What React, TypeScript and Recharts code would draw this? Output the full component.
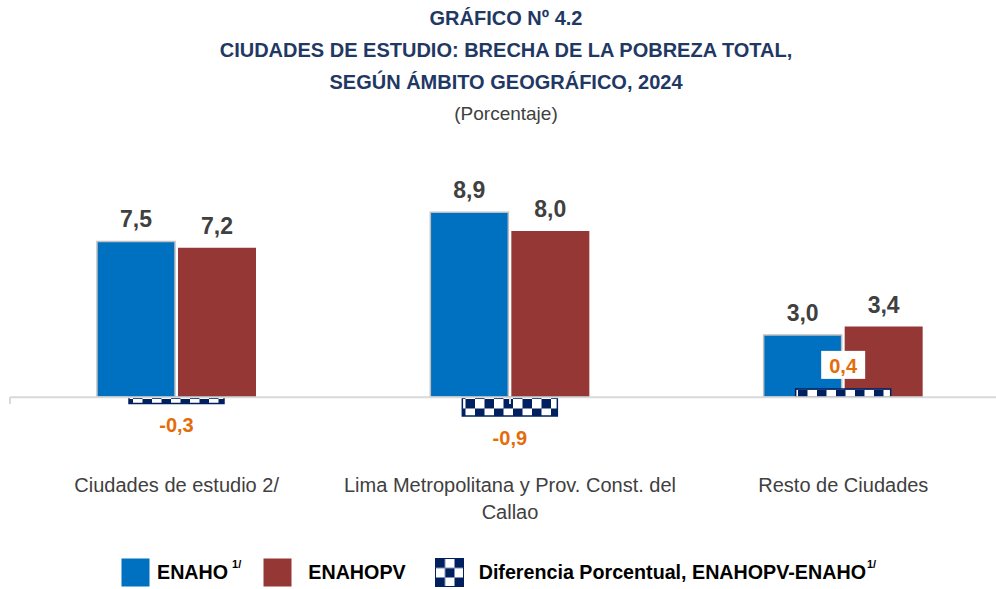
import { BarChart, Bar, XAxis, YAxis, LabelList, ReferenceLine } from 'recharts'

const categories = [
  'Ciudades de estudio 2/',
  'Lima Metropolitana y Prov. Const. del Callao',
  'Resto de Ciudades',
]
const enaho = [7.5, 8.9, 3.0]
const enahopv = [7.2, 8.0, 3.4]
const diferencia = [-0.3, -0.9, 0.4]
const boundaries = [0, 1, 2, 3]

const titleLines = [
  'GRÁFICO Nº 4.2',
  'CIUDADES DE ESTUDIO: BRECHA DE LA POBREZA TOTAL,',
  'SEGÚN ÁMBITO GEOGRÁFICO, 2024',
]
const subtitle = '(Porcentaje)'

const data = categories.map((name, i) => ({
  name,
  enaho: enaho[i],
  enahopv: enahopv[i],
  diff: diferencia[i],
}))

const FONT = '"Liberation Sans Narrow", "Liberation Sans", Arial, sans-serif'
const BLUE = '#0070C0'
const RED = '#953735'
const NAVY = '#002060'
const ORANGE = '#E46C0A'
const GREY = '#404040'

const fmt = (v: number) => v.toFixed(1).replace('.', ',')

function wrap(text: string, maxChars: number) {
  const lines: string[] = []
  let cur = ''
  for (const w of text.split(' ')) {
    const next = cur ? cur + ' ' + w : w
    if (next.length > maxChars && cur) {
      lines.push(cur)
      cur = w
    } else cur = next
  }
  if (cur) lines.push(cur)
  return lines
}

function CategoryTick(props: any) {
  const { x, y, payload } = props
  const lines = wrap(String(payload.value), 38)
  return (
    <text x={x} y={y + 24} textAnchor="middle" fill={GREY} fontSize={20} fontFamily={FONT}>
      {lines.map((l, i) => (
        <tspan key={i} x={x} dy={i === 0 ? 0 : 27}>
          {l}
        </tspan>
      ))}
    </text>
  )
}

function DiffLabel(props: any) {
  const { x, y, width, height, value } = props
  const top = Math.min(y, y + height)
  const bottom = Math.max(y, y + height)
  const cx = x + width / 2
  if (value < 0) {
    return (
      <text x={cx} y={bottom + 29} textAnchor="middle" fill={ORANGE} fontSize={20} fontWeight="bold" fontFamily={FONT}>
        {fmt(value)}
      </text>
    )
  }
  return (
    <g>
      <rect x={cx - 22} y={top - 38} width={44} height={28} fill="#fff" />
      <text x={cx} y={top - 16} textAnchor="middle" fill={ORANGE} fontSize={20} fontWeight="bold" fontFamily={FONT}>
        {fmt(value)}
      </text>
    </g>
  )
}

function Swatch({ fill, stroke }: { fill: string; stroke?: string }) {
  return (
    <svg width={29} height={29} style={{ display: 'block' }}>
      <rect x={0.5} y={0.5} width={28} height={28} fill={fill} stroke={stroke ?? 'none'} />
    </svg>
  )
}

export default function App() {
  return (
    <div style={{ position: 'absolute', left: 0, top: 0, width: 996, height: 589, overflow: 'hidden', background: '#fff' }}>
      <svg width={0} height={0} style={{ position: 'absolute' }}>
        <defs>
          <pattern id="checker" patternUnits="userSpaceOnUse" width={19} height={19}>
            <rect width={19} height={19} fill={NAVY} />
            <rect x={0} y={0} width={9.5} height={9.5} fill="#fff" />
            <rect x={9.5} y={9.5} width={9.5} height={9.5} fill="#fff" />
          </pattern>
          <pattern id="checkerIcon" patternUnits="userSpaceOnUse" width={19} height={19} x={0.5} y={0.5}>
            <rect width={19} height={19} fill={NAVY} />
            <rect x={9.5} y={0} width={9.5} height={9.5} fill="#fff" />
            <rect x={0} y={9.5} width={9.5} height={9.5} fill="#fff" />
          </pattern>
        </defs>
      </svg>

      <div style={{ position: 'absolute', left: 0, top: 2, width: 1012, textAlign: 'center', fontFamily: FONT, color: '#1F3864', fontWeight: 'bold', fontSize: 20, lineHeight: '32px' }}>
        {titleLines.map((t) => (
          <div key={t}>{t}</div>
        ))}
        <div style={{ fontWeight: 'normal', color: GREY, fontSize: 19 }}>{subtitle}</div>
      </div>

      <div style={{ position: 'absolute', left: 0, top: 0 }}>
        <BarChart
          width={1010}
          height={589}
          data={data}
          margin={{ top: 189.5, right: 0, bottom: 99.5, left: 10 }}
          barGap={3}
        >
          <XAxis xAxisId="cat" dataKey="name" height={30} axisLine={false} tickLine={false} tick={<CategoryTick />} interval={0} />
          <XAxis xAxisId="diff" dataKey="name" hide />
          <XAxis xAxisId="grid" type="number" domain={[0, 3]} hide />
          <YAxis domain={[-3, 10]} hide />
          <ReferenceLine xAxisId="grid" y={0} stroke="#D9D9D9" strokeWidth={2} />
          {boundaries.map((b) => (
            <ReferenceLine
              key={b}
              xAxisId="grid"
              segment={[{ x: b, y: 0 }, { x: b, y: -0.33 }]}
              stroke="#D9D9D9"
              strokeWidth={2}
            />
          ))}
          <Bar xAxisId="cat" dataKey="enaho" fill={BLUE} stroke="#BFBFBF" strokeWidth={1.5} barSize={78} isAnimationActive={false}>
            <LabelList dataKey="enaho" position="top" offset={14} formatter={(v: any) => fmt(Number(v))} fill={GREY} fontSize={23} fontWeight="bold" fontFamily={FONT} />
          </Bar>
          <Bar xAxisId="cat" dataKey="enahopv" fill={RED} barSize={78} isAnimationActive={false}>
            <LabelList dataKey="enahopv" position="top" offset={14} formatter={(v: any) => fmt(Number(v))} fill={GREY} fontSize={23} fontWeight="bold" fontFamily={FONT} />
          </Bar>
          <Bar xAxisId="diff" dataKey="diff" fill="url(#checker)" stroke={NAVY} strokeWidth={1.5} barSize={95} isAnimationActive={false}>
            <LabelList dataKey="diff" content={<DiffLabel />} />
          </Bar>
        </BarChart>
      </div>

      <div style={{ position: 'absolute', left: 121, top: 558, display: 'flex', alignItems: 'center', fontFamily: FONT, fontWeight: 'bold', fontSize: 19.7, color: '#000' }}>
        <Swatch fill={BLUE} />
        <span style={{ marginLeft: 7 }}>ENAHO</span>
        <sup style={{ fontSize: 11, marginLeft: 4, alignSelf: 'flex-start' }}>1/</sup>
        <span style={{ marginLeft: 22 }} />
        <Swatch fill={RED} />
        <span style={{ marginLeft: 16 }}>ENAHOPV</span>
        <span style={{ marginLeft: 29 }} />
        <Swatch fill="url(#checkerIcon)" stroke={NAVY} />
        <span style={{ marginLeft: 15 }}>Diferencia Porcentual, ENAHOPV-ENAHO</span>
        <sup style={{ fontSize: 11, marginLeft: 1, alignSelf: 'flex-start' }}>1/</sup>
      </div>
    </div>
  )
}
